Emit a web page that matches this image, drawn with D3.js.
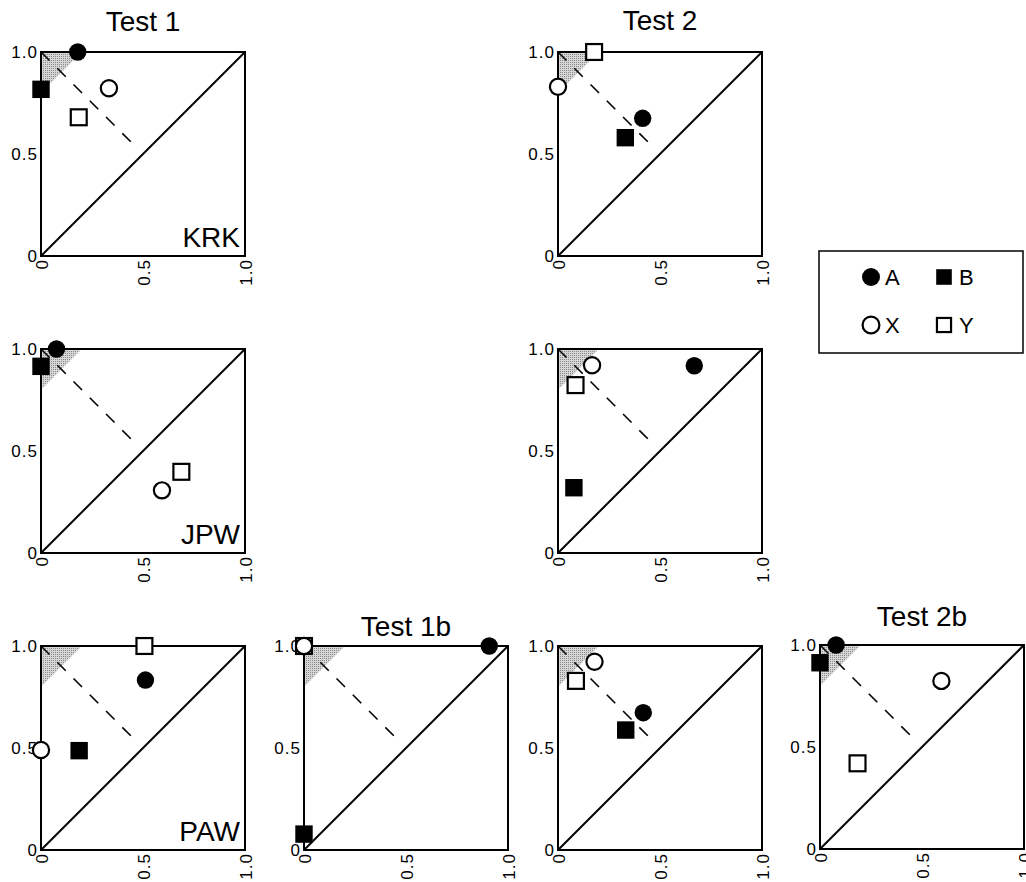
<!DOCTYPE html>
<html>
<head>
<meta charset="utf-8">
<script src="https://cdn.jsdelivr.net/npm/d3@7"></script>
<style>
	body { margin: 0; background: #fff; }
	svg text { font-family: "Liberation Sans", Arial, Helvetica, sans-serif; fill: #000; }
</style>
</head>
<body>
<svg id="chart" width="1026" height="882"></svg>
<script>

// Panels, in order: row 1 (Test 1, Test 2), row 2, row 3 (4 panels)

var panelTitles = ["Test 1", "Test 2", "", "", "", "Test 1b", "", "Test 2b"];
var panelNames = ["KRK", "", "JPW", "", "PAW", "", "", ""];

// [x, y] per panel for each stimulus
var pointsA = [[0.18, 1.0], [0.415, 0.675], [0.076, 1.0], [0.668, 0.918], [0.512, 0.833], [0.908, 1.0], [0.418, 0.673], [0.079, 1.0]];
var pointsB = [[0.0, 0.817], [0.33, 0.58], [0.0, 0.915], [0.078, 0.32], [0.187, 0.487], [0.0, 0.078], [0.332, 0.588], [0.0, 0.913]];
var pointsX = [[0.333, 0.822], [0.0, 0.83], [0.593, 0.307], [0.167, 0.92], [0.0, 0.49], [0.0, 1.0], [0.179, 0.923], [0.595, 0.824]];
var pointsY = [[0.185, 0.68], [0.177, 1.0], [0.688, 0.398], [0.086, 0.823], [0.507, 1.0], [0.0, 1.0], [0.088, 0.829], [0.184, 0.42]];

var xTicks = [0, 0.5, 1];
var xTickLabels = ["0", "0.5", "1.0"];
var yTicks = [0, 0.5, 1];
var yTickLabels = ["0", "0.5", "1.0"];

var shadeCorner = [[0, 1], [0.2, 1], [0, 0.8]];
var dashedSegment = [[0, 1], [0.467, 0.533]];

var legendKeys = ["A", "B", "X", "Y"];

// Layout

var panelLeft = [41, 558, 41, 558, 41, 304, 558, 820];
var panelTop = [52, 52, 349, 349, 646, 646, 646, 645];
var titleGap = [21, 22, 0, 0, 0, 10, 0, 19];
var size = 204;

var svg = d3.select("#chart");

// stipple for the shaded corner
var pattern = svg.append("defs").append("pattern")
.attr("id", "stipple")
.attr("width", 2)
.attr("height", 2)
.attr("patternUnits", "userSpaceOnUse");

pattern.append("rect").attr("width", 2).attr("height", 2).style("fill", "#d6d6d6");
pattern.append("rect").attr("width", 1).attr("height", 1).style("fill", "#8a8a8a");

var series = [
	{key: "Y", points: pointsY, shape: "square", filled: false},
	{key: "X", points: pointsX, shape: "circle", filled: false},
	{key: "B", points: pointsB, shape: "square", filled: true},
	{key: "A", points: pointsA, shape: "circle", filled: true}
];

function drawMarker(g, shape, filled, cx, cy, r) {

	if(shape == "circle") {
		g.append("circle")
		.attr("cx", cx)
		.attr("cy", cy)
		.attr("r", filled ? r : r - 0.6)
		.style("fill", filled ? "#000" : "#fff")
		.style("stroke", "#000")
		.style("stroke-width", filled ? 0 : 2.2);
	} else {
		var s = filled ? r * 2 : r * 2 - 1.5;
		g.append("rect")
		.attr("x", cx - s / 2)
		.attr("y", cy - s / 2)
		.attr("width", s)
		.attr("height", s)
		.style("fill", filled ? "#000" : "#fff")
		.style("stroke", "#000")
		.style("stroke-width", filled ? 0 : 2.2);
	}
}

panelTitles.forEach(function (title, i) {

	var x = d3.scaleLinear().domain([0, 1]).range([0, size]);
	var y = d3.scaleLinear().domain([0, 1]).range([size, 0]);

	var g = svg.append("g")
	.attr("transform", "translate(" + panelLeft[i] + "," + panelTop[i] + ")");

	var line = d3.line()
	.x(function (d) { return x(d[0]); })
	.y(function (d) { return y(d[1]); });

	// Shaded corner

	g.append("path")
	.attr("d", line(shadeCorner) + "Z")
	.style("fill", "url(#stipple)")
	.style("stroke", "none");

	// Frame

	g.append("rect")
	.attr("x", x(0))
	.attr("y", y(1))
	.attr("width", x(1) - x(0))
	.attr("height", y(0) - y(1))
	.style("fill", "none")
	.style("stroke", "#000")
	.style("stroke-width", 2);

	// Diagonal

	g.append("path")
	.attr("d", line([[0, 0], [1, 1]]))
	.style("fill", "none")
	.style("stroke", "#000")
	.style("stroke-width", 2);

	g.append("path")
	.attr("d", line(dashedSegment))
	.style("fill", "none")
	.style("stroke", "#000")
	.style("stroke-width", 1.6)
	.style("stroke-dasharray", "12,11");

	// Ticks

	g.selectAll(".ytick")
	.data(yTicks)
	.enter().append("text")
	.attr("class", "ytick")
	.attr("x", -3)
	.attr("y", function (d) { return y(d); })
	.attr("dy", "0.36em")
	.style("text-anchor", "end")
	.style("font-size", "17px")
	.style("letter-spacing", "1px")
	.text(function (d, j) { return yTickLabels[j]; });

	g.selectAll(".xtick")
	.data(xTicks)
	.enter().append("text")
	.attr("class", "xtick")
	.attr("transform", function (d) { return "translate(" + (x(d) + 1) + "," + (size + 3) + ") rotate(-90)"; })
	.attr("dy", "0.36em")
	.style("text-anchor", "end")
	.style("font-size", "17px")
	.style("letter-spacing", "1px")
	.text(function (d, j) { return xTickLabels[j]; });

	if(title != "") {
		g.append("text")
		.attr("x", size / 2)
		.attr("y", -titleGap[i])
		.style("text-anchor", "middle")
		.style("font-size", "28px")
		.text(title);
	}

	if(panelNames[i] != "") {
		g.append("text")
		.attr("x", size - 5)
		.attr("y", size - 9)
		.style("text-anchor", "end")
		.style("font-size", "28px")
		.text(panelNames[i]);
	}

	// Markers

	series.forEach(function (s) {
		var p = s.points[i];
		drawMarker(g, s.shape, s.filled, x(p[0]), y(p[1]), 8.7);
	});
});

// Legend

var legend = svg.append("g")
.attr("transform", "translate(819,251)");

legend.append("rect")
.attr("width", 204)
.attr("height", 102)
.style("fill", "#fff")
.style("stroke", "#000")
.style("stroke-width", 1.5);

var legendShapes = {A: ["circle", true], B: ["square", true], X: ["circle", false], Y: ["square", false]};

legendKeys.forEach(function (k, j) {
	var col = j % 2, row = Math.floor(j / 2);
	var isSquare = legendShapes[k][0] == "square";
	var cx = col == 0 ? 52 : 125;
	var cy = 26 + row * 48;
	drawMarker(legend, legendShapes[k][0], legendShapes[k][1], cx, cy, isSquare ? 7.8 : 9);

	legend.append("text")
	.attr("x", col == 0 ? 66 : 140)
	.attr("y", cy + 8)
	.style("font-size", "22px")
	.text(k);
});

</script>
</body>
</html>
